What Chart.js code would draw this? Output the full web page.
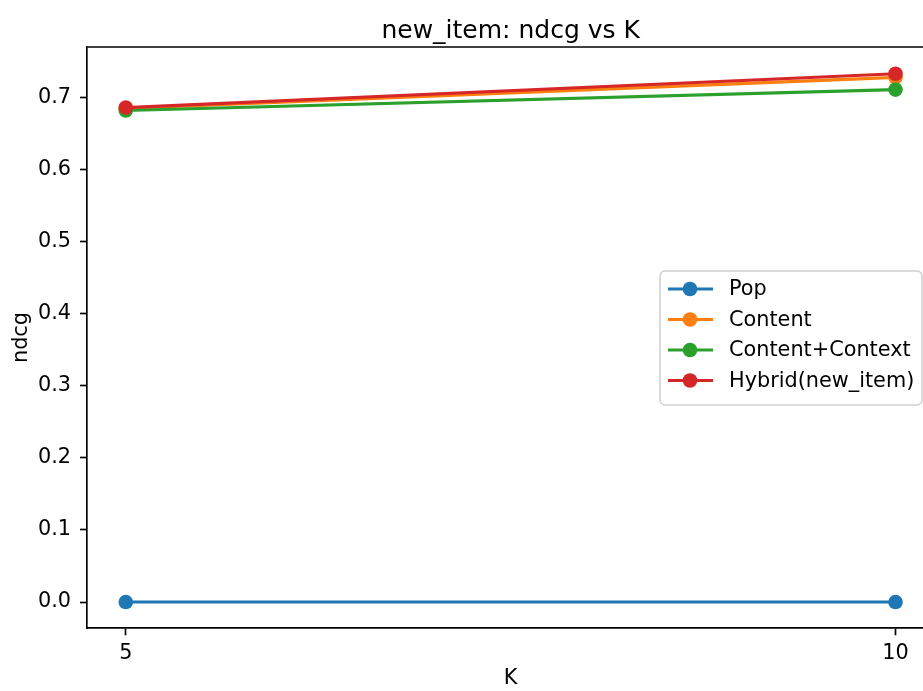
<!DOCTYPE html>
<html>
<head>
<meta charset="utf-8">
<script src="https://cdn.jsdelivr.net/npm/chart.js@4"></script>
<style>
  html, body { margin: 0; padding: 0; background: #fff; overflow: hidden; }
  #wrap { width: 942px; height: 691px; }
</style>
</head>
<body>
<div id="wrap"><canvas id="chart"></canvas></div>
<script>
// K values and ndcg per method
var kValues = [5, 10];
var seriesNames = ['Pop', 'Content', 'Content+Context', 'Hybrid(new_item)'];
var popNdcg = [0.0, 0.0];
var contentNdcg = [0.685, 0.728];
var contextNdcg = [0.682, 0.711];
var hybridNdcg = [0.686, 0.733];
var yTicks = [0.0, 0.1, 0.2, 0.3, 0.4, 0.5, 0.6, 0.7];
var xTicks = [5, 10];
var chartTitle = 'new_item: ndcg vs K';

var colors = ['#1f77b4', '#ff7f0e', '#2ca02c', '#d62728'];
var allValues = [popNdcg, contentNdcg, contextNdcg, hybridNdcg];
var FONT = "'DejaVu Sans', sans-serif";
var FS = 20.8;

function makeSet(i) {
  return {
    label: seriesNames[i],
    data: kValues.map(function (k, j) { return { x: k, y: allValues[i][j] }; }),
    borderColor: colors[i],
    backgroundColor: colors[i],
    borderWidth: 3.1,
    pointRadius: 7.3,
    pointHoverRadius: 7.3,
    pointBorderWidth: 0,
    tension: 0,
    fill: false,
    order: 3 - i
  };
}

// top/right spines and title centred over the axes
var frame = {
  id: 'frame',
  afterDraw: function (chart) {
    var a = chart.chartArea, c = chart.ctx;
    c.save();
    c.strokeStyle = '#000';
    c.lineWidth = 1.67;
    c.beginPath();
    c.moveTo(a.left, a.top);
    c.lineTo(a.right, a.top);
    c.lineTo(a.right, a.bottom);
    c.stroke();
    c.fillStyle = '#000';
    c.font = '25px ' + FONT;
    c.textAlign = 'center';
    c.textBaseline = 'alphabetic';
    c.fillText(chartTitle, (a.left + a.right) / 2, 38);
    c.restore();
  }
};

// matplotlib-like legend box inside the axes
var boxLegend = {
  id: 'boxLegend',
  afterDraw: function (chart) {
    var c = chart.ctx;
    var x0 = 660, y0 = 271, w = 262, h = 134, r = 5;
    c.save();
    c.fillStyle = 'rgba(255,255,255,0.8)';
    c.strokeStyle = '#d0d0d0';
    c.lineWidth = 1.5;
    c.beginPath();
    c.roundRect(x0, y0, w, h, r);
    c.fill();
    c.stroke();
    c.font = FS + 'px ' + FONT;
    c.textBaseline = 'middle';
    chart.data.datasets.forEach(function (ds, i) {
      var y = 289 + i * 30.5;
      c.strokeStyle = ds.borderColor;
      c.lineWidth = 3.1;
      c.beginPath();
      c.moveTo(668, y);
      c.lineTo(713, y);
      c.stroke();
      c.fillStyle = ds.borderColor;
      c.beginPath();
      c.arc(690, y, 7.3, 0, Math.PI * 2);
      c.fill();
      c.fillStyle = '#000';
      c.fillText(ds.label, 729, y + 1);
    });
    c.restore();
  }
};

new Chart(document.getElementById('chart'), {
  type: 'line',
  data: { datasets: allValues.map(function (v, i) { return makeSet(i); }) },
  plugins: [frame, boxLegend],
  options: {
    responsive: true,
    maintainAspectRatio: false,
    animation: false,
    layout: { padding: { left: 0, right: 8, top: 47, bottom: 0 } },
    plugins: {
      legend: { display: false },
      tooltip: { enabled: false },
      title: { display: false }
    },
    scales: {
      x: {
        type: 'linear',
        min: 4.75,
        max: 10.25,
        afterBuildTicks: function (ax) { ax.ticks = xTicks.map(function (v) { return { value: v }; }); },
        afterFit: function (ax) { ax.height = 63; },
        grid: { display: true, drawOnChartArea: false, drawTicks: true, tickLength: 7.3, tickColor: '#000', tickWidth: 1.67 },
        border: { display: true, color: '#000', width: 1.67 },
        ticks: { color: '#000', padding: 6, font: { family: FONT, size: FS }, maxRotation: 0 },
        title: { display: true, text: 'K', color: '#000', font: { family: FONT, size: FS }, padding: { top: 0, bottom: 0 } }
      },
      y: {
        min: -0.036,
        max: 0.7701,
        afterBuildTicks: function (ax) { ax.ticks = yTicks.map(function (v) { return { value: v }; }); },
        afterFit: function (ax) { ax.width = 87.3; },
        grid: { display: true, drawOnChartArea: false, drawTicks: true, tickLength: 7.3, tickColor: '#000', tickWidth: 1.67 },
        border: { display: true, color: '#000', width: 1.67 },
        ticks: {
          color: '#000', padding: 9, font: { family: FONT, size: FS },
          callback: function (v) { return v.toFixed(1); }
        },
        title: { display: true, text: 'ndcg', color: '#000', font: { family: FONT, size: FS }, padding: { top: 9, bottom: 0 } }
      }
    }
  }
});
</script>
</body>
</html>
